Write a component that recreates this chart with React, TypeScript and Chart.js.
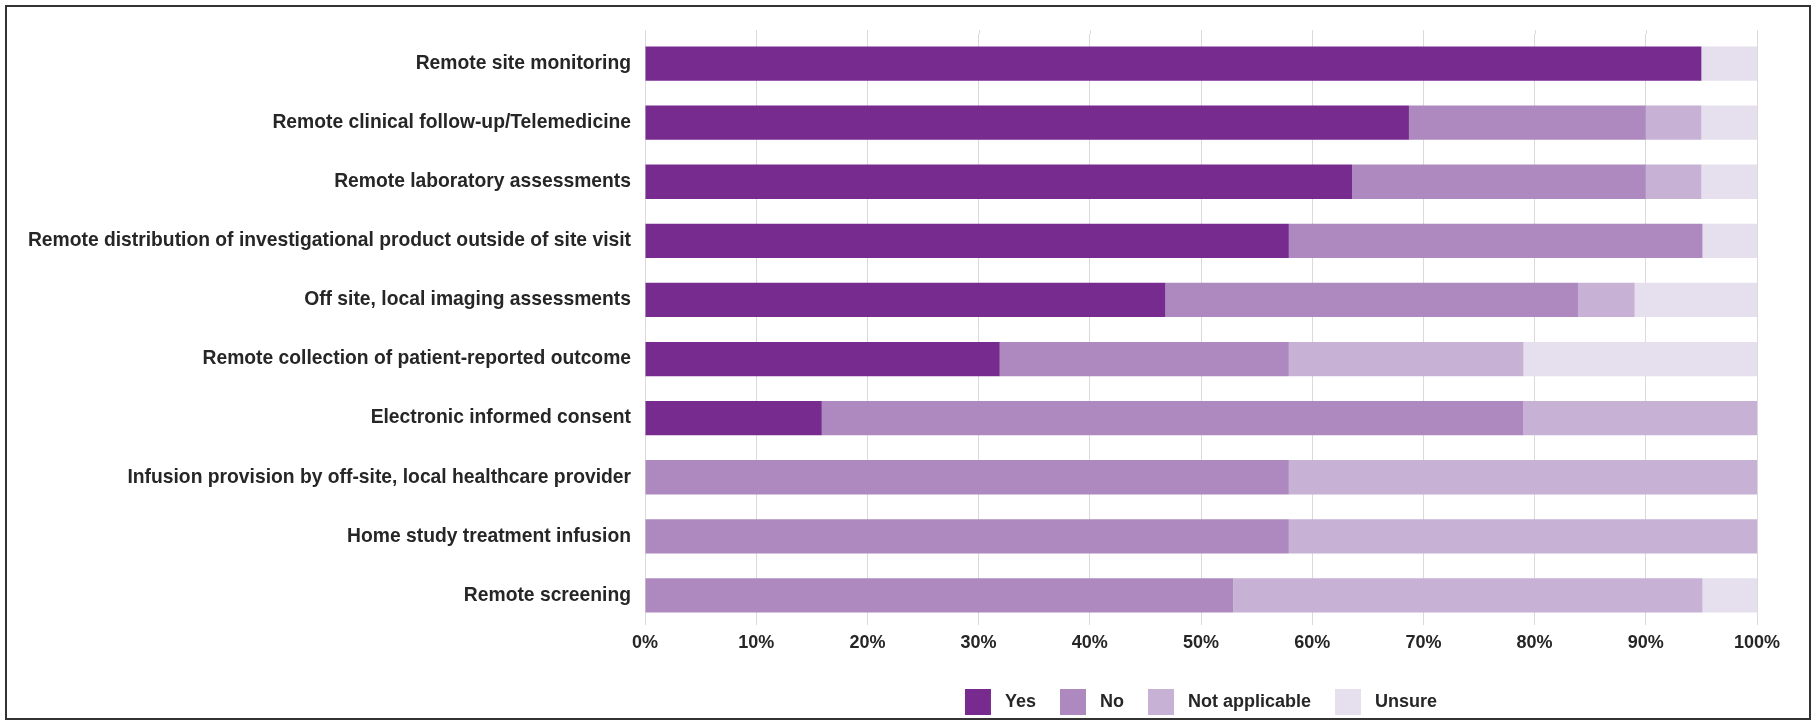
import React, { useEffect, useRef } from 'react';
import { Chart, registerables } from 'chart.js';

Chart.register(...registerables);

const categories = [
  'Remote site monitoring',
  'Remote clinical follow-up/Telemedicine',
  'Remote laboratory assessments',
  'Remote distribution of investigational product outside of site visit',
  'Off site, local imaging assessments',
  'Remote collection of patient-reported outcome',
  'Electronic informed consent',
  'Infusion provision by off-site, local healthcare provider',
  'Home study treatment infusion',
  'Remote screening',
];

const yesValues = [95.0, 68.7, 63.6, 57.9, 46.8, 31.9, 15.9, 0, 0, 0];
const noValues = [0, 21.3, 26.4, 37.2, 37.1, 26.0, 63.1, 57.9, 57.9, 52.9];
const notApplicableValues = [0, 5.0, 5.0, 0, 5.1, 21.1, 21.0, 42.1, 42.1, 42.2];
const unsureValues = [5.0, 5.0, 5.0, 4.9, 11.0, 21.0, 0, 0, 0, 4.9];

const seriesNames = ['Yes', 'No', 'Not applicable', 'Unsure'];
const seriesColors = ['#782B8F', '#AD89C0', '#C7B2D6', '#E6E0EE'];

const xTickValues = [0, 10, 20, 30, 40, 50, 60, 70, 80, 90, 100];

const GRID_COLOR = '#DADADA';
const TEXT_COLOR = '#262626';
const FONT_FAMILY = '"Liberation Sans", Arial, Helvetica, sans-serif';

const gridExtend = {
  id: 'gridExtend',
  beforeDatasetsDraw(chart: any) {
    const xs = chart.scales.x;
    const top = chart.chartArea.top;
    const ctx = chart.ctx;
    ctx.save();
    ctx.strokeStyle = GRID_COLOR;
    ctx.lineWidth = 1;
    xs.ticks.forEach((_t: any, i: number) => {
      const px = Math.round(xs.getPixelForTick(i)) + 0.5;
      ctx.beginPath();
      ctx.moveTo(px, top - 4);
      ctx.lineTo(px, top);
      ctx.stroke();
    });
    ctx.restore();
  },
};

const legendCenter = {
  id: 'legendCenter',
  afterLayout(chart: any) {
    const lg = chart.legend;
    if (!lg) return;
    const { left, right } = chart.chartArea;
    lg.left = left;
    lg.right = right;
    lg.width = right - left;
  },
};

export default function App() {
  const canvasRef = useRef<HTMLCanvasElement | null>(null);

  useEffect(() => {
    if (!canvasRef.current) return;
    const series = [yesValues, noValues, notApplicableValues, unsureValues];
    const chart = new Chart(canvasRef.current, {
      type: 'bar',
      data: {
        labels: categories,
        datasets: series.map((values, i) => ({
          label: seriesNames[i],
          data: values,
          backgroundColor: seriesColors[i],
          borderWidth: 0,
          categoryPercentage: 1,
          barPercentage: 0.58,
        })),
      },
      options: {
        indexAxis: 'y',
        responsive: false,
        animation: false,
        devicePixelRatio: 1,
        layout: { padding: { top: 34, right: 59, bottom: -4, left: 0 } },
        scales: {
          x: {
            stacked: true,
            min: 0,
            max: 100,
            afterBuildTicks: (scale: any) => {
              scale.ticks = xTickValues.map((v) => ({ value: v }));
            },
            afterFit: (scale: any) => {
              scale.height = 40;
            },
            grid: { color: GRID_COLOR, lineWidth: 1, drawTicks: false },
            border: { display: false },
            ticks: {
              padding: 7,
              color: TEXT_COLOR,
              font: { family: FONT_FAMILY, size: 18, weight: 'bold' },
              callback: (v: any) => `${v}%`,
              maxRotation: 0,
              autoSkip: false,
            },
          },
          y: {
            stacked: true,
            afterFit: (scale: any) => {
              scale.width = 645;
            },
            grid: { display: false, drawTicks: false },
            border: { display: false },
            ticks: {
              padding: 14,
              color: TEXT_COLOR,
              font: { family: FONT_FAMILY, size: 19.3, weight: 'bold' },
              autoSkip: false,
            },
          },
        },
        plugins: {
          legend: {
            position: 'bottom',
            labels: {
              boxWidth: 26,
              boxHeight: 26,
              padding: 24,
              color: TEXT_COLOR,
              font: { family: FONT_FAMILY, size: 18, weight: 'bold' },
              generateLabels: (c: any) =>
                Chart.defaults.plugins.legend.labels
                  .generateLabels(c)
                  .map((l: any) => ({ ...l, text: ' ' + l.text, lineWidth: 0 })),
            },
          },
          tooltip: { enabled: false },
        },
      },
      plugins: [gridExtend, legendCenter],
    } as any);
    return () => chart.destroy();
  }, []);

  return (
    <div
      style={{
        position: 'fixed',
        left: 0,
        top: 0,
        width: 1816,
        height: 721,
        background: '#ffffff',
        overflow: 'hidden',
      }}
    >
      <canvas
        ref={canvasRef}
        width={1816}
        height={721}
        style={{ position: 'absolute', left: 0, top: 0, width: 1816, height: 721 }}
      />
      <div
        style={{
          position: 'absolute',
          left: 5,
          top: 5,
          width: 1806,
          height: 715,
          boxSizing: 'border-box',
          border: '2px solid #333333',
          pointerEvents: 'none',
        }}
      />
    </div>
  );
}
